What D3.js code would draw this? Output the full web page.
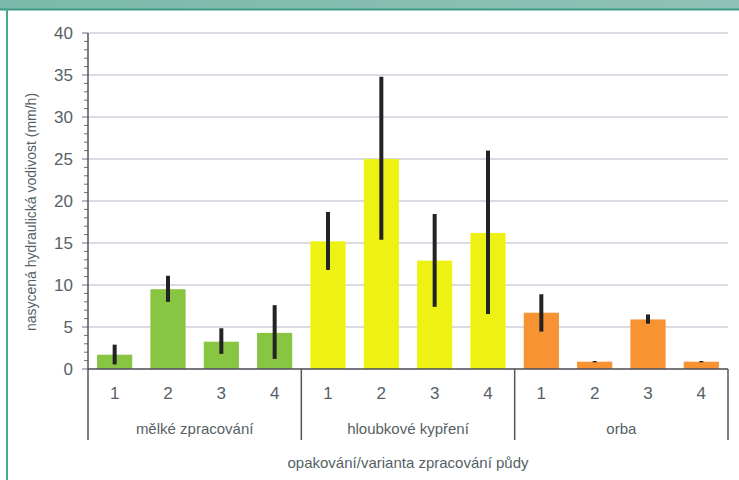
<!DOCTYPE html>
<html>
<head>
<meta charset="utf-8">
<script src="https://cdn.jsdelivr.net/npm/d3@7"></script>
<style>
  body { margin: 0; background: #fff; }
  svg { display: block; font-family: "Liberation Sans", Arial, sans-serif; }
  .lbl { fill: #565f66; }
</style>
</head>
<body>
<svg id="chart" width="739" height="480"></svg>
<script>
// values (mm/h)
var groups = ["mělké zpracování", "hloubkové kypření", "orba"];
var reps = ["1", "2", "3", "4"];
var groupColors = ["#88c542", "#eef213", "#f79332"];
var means = [
  [1.7, 9.5, 3.25, 4.3],
  [15.2, 25.0, 12.9, 16.2],
  [6.7, 0.87, 5.9, 0.87]
];
var errLow = [
  [0.55, 8.0, 1.8, 1.2],
  [11.8, 15.4, 7.4, 6.55],
  [4.45, 0.8, 5.4, 0.8]
];
var errHigh = [
  [2.9, 11.1, 4.85, 7.6],
  [18.7, 34.8, 18.45, 26.0],
  [8.9, 0.95, 6.5, 0.95]
];
var yTicks = [0, 5, 10, 15, 20, 25, 30, 35, 40];

var svg = d3.select("#chart"),
    plotLeft = 88, plotRight = 728, plotTop = 33, plotBottom = 369;

// frame bits from the scanned page
var defs = svg.append("defs");
var band = defs.append("linearGradient").attr("id", "band")
    .attr("x1", "0%").attr("x2", "100%");
band.append("stop").attr("offset", 0).attr("stop-color", "#7ab9a9");
band.append("stop").attr("offset", 1).attr("stop-color", "#8fc2b6");
svg.append("rect").attr("x", 0).attr("y", 0).attr("width", 739).attr("height", 9)
    .attr("fill", "url(#band)");
svg.append("line").attr("x1", 0).attr("x2", 739).attr("y1", 9.5).attr("y2", 9.5)
    .attr("stroke", "#3f9c84").attr("stroke-width", 2);
svg.append("line").attr("x1", 7).attr("x2", 7).attr("y1", 9).attr("y2", 480)
    .attr("stroke", "#4aa592").attr("stroke-width", 2);

var rows = [];
groups.forEach(function(g, gi) {
  reps.forEach(function(r, ri) {
    rows.push({key: gi + "-" + r, group: gi, rep: r, value: means[gi][ri],
               lo: errLow[gi][ri], hi: errHigh[gi][ri]});
  });
});

var x = d3.scaleBand()
    .domain(rows.map(function(d) { return d.key; }))
    .range([plotLeft, plotRight])
    .paddingInner(0.34)
    .paddingOuter(0.17);

var y = d3.scaleLinear().domain([0, 40]).range([plotBottom, plotTop]);

// gridlines
svg.append("g")
  .selectAll("line")
  .data(yTicks.filter(function(t) { return t > 0; }))
  .enter().append("line")
    .attr("x1", plotLeft).attr("x2", plotRight)
    .attr("y1", function(d) { return y(d); })
    .attr("y2", function(d) { return y(d); })
    .attr("stroke", "#b9b7cc").attr("stroke-width", 1.2);

// minor ticks, every 1 mm/h
svg.append("g")
  .selectAll("line")
  .data(d3.range(0, 41))
  .enter().append("line")
    .attr("x1", function(d) { return d % 5 == 0 ? plotLeft - 6 : plotLeft - 4; })
    .attr("x2", plotLeft)
    .attr("y1", function(d) { return y(d); })
    .attr("y2", function(d) { return y(d); })
    .attr("stroke", "#6f6a80").attr("stroke-width", 1);

// y axis labels
var yAxis = svg.append("g")
    .attr("transform", "translate(" + plotLeft + ",0)")
    .call(d3.axisLeft(y).tickValues(yTicks).tickSize(0).tickPadding(15));
yAxis.select(".domain").remove();
yAxis.selectAll("text").attr("class", "lbl").attr("fill", null)
    .style("font-size", "17px")
    .style("font-family", "Liberation Sans, Arial, sans-serif");

svg.append("line").attr("x1", plotLeft).attr("x2", plotLeft)
    .attr("y1", plotTop).attr("y2", plotBottom)
    .attr("stroke", "#555").attr("stroke-width", 1.5);

// bars
svg.append("g")
  .selectAll("rect")
  .data(rows)
  .enter().append("rect")
    .attr("x", function(d) { return x(d.key); })
    .attr("y", function(d) { return y(d.value); })
    .attr("width", x.bandwidth())
    .attr("height", function(d) { return y(0) - y(d.value); })
    .attr("fill", function(d) { return groupColors[d.group]; });

// error bars
svg.append("g")
  .selectAll("line")
  .data(rows)
  .enter().append("line")
    .attr("x1", function(d) { return x(d.key) + x.bandwidth() / 2; })
    .attr("x2", function(d) { return x(d.key) + x.bandwidth() / 2; })
    .attr("y1", function(d) { return y(d.hi); })
    .attr("y2", function(d) { return y(d.lo); })
    .attr("stroke", "#232326").attr("stroke-width", 4);

// x axis baseline
svg.append("line").attr("x1", plotLeft).attr("x2", plotRight)
    .attr("y1", plotBottom).attr("y2", plotBottom)
    .attr("stroke", "#4a4a58").attr("stroke-width", 1.5);

// rep labels
svg.append("g")
  .selectAll("text")
  .data(rows)
  .enter().append("text")
    .attr("class", "lbl")
    .attr("x", function(d) { return x(d.key) + x.bandwidth() / 2; })
    .attr("y", 399)
    .attr("text-anchor", "middle")
    .style("font-size", "17px")
    .text(function(d) { return d.rep; });

// group separators and labels
var step = x.step() * reps.length;
svg.append("g")
  .selectAll("line")
  .data(d3.range(groups.length + 1))
  .enter().append("line")
    .attr("x1", function(i) { return plotLeft + i * step; })
    .attr("x2", function(i) { return plotLeft + i * step; })
    .attr("y1", plotBottom).attr("y2", 440)
    .attr("stroke", "#555").attr("stroke-width", 1.5);

svg.append("g")
  .selectAll("text")
  .data(groups)
  .enter().append("text")
    .attr("class", "lbl")
    .attr("x", function(d, i) { return plotLeft + (i + 0.5) * step; })
    .attr("y", 434)
    .attr("text-anchor", "middle")
    .style("font-size", "15px")
    .text(function(d) { return d; });

svg.append("text")
    .attr("class", "lbl")
    .attr("x", (plotLeft + plotRight) / 2)
    .attr("y", 468)
    .attr("text-anchor", "middle")
    .style("font-size", "15px")
    .text("opakování/varianta zpracování půdy");

svg.append("text")
    .attr("class", "lbl")
    .attr("transform", "translate(36,212) rotate(-90)")
    .attr("text-anchor", "middle")
    .style("font-size", "14px")
    .text("nasycená hydraulická vodivost (mm/h)");
</script>
</body>
</html>
